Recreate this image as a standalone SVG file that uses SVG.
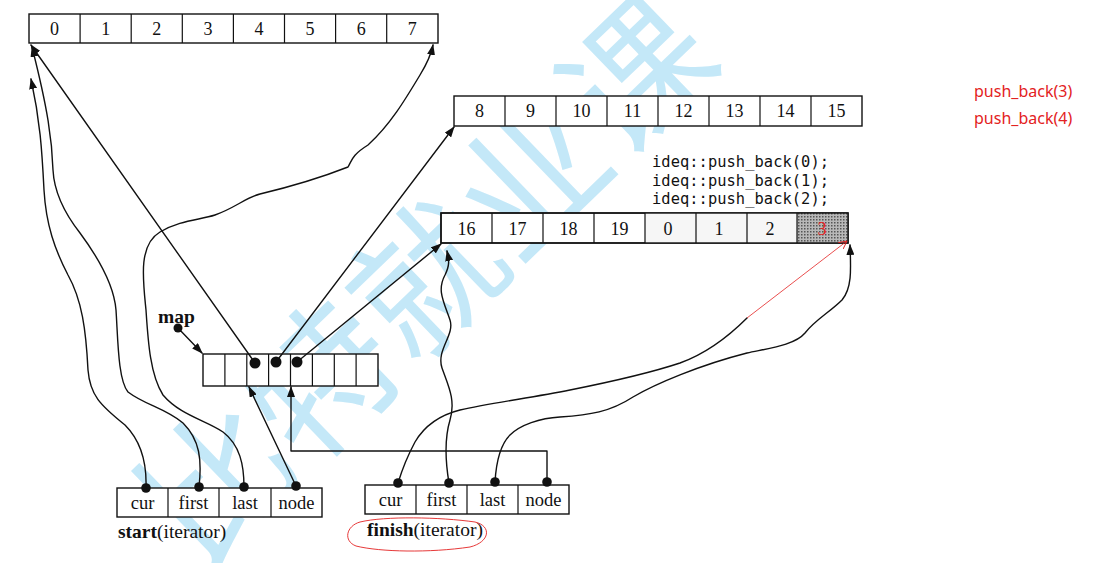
<svg xmlns="http://www.w3.org/2000/svg" width="1103" height="563" viewBox="0 0 1103 563">
<style>
.cell{fill:#fff;stroke:#111;stroke-width:1.4}
.div{stroke:#111;stroke-width:1.2}
.num{font-family:"Liberation Serif",serif;font-size:18px;fill:#111;text-anchor:middle}
.lbl{font-family:"Liberation Serif",serif;font-size:18.5px;fill:#111;text-anchor:middle}
.cap{font-family:"Liberation Serif",serif;font-size:19.5px;fill:#111}
.code{font-family:"DejaVu Sans Mono","Liberation Mono",monospace;font-size:15.4px;fill:#111}
.red{font-family:"Noto Sans","Liberation Sans",sans-serif;font-size:16px;fill:#e32222}
.ln{fill:none;stroke:#111;stroke-width:1.4;stroke-linejoin:round;stroke-linecap:round}
.ar{marker-end:url(#ah)}
.dot{fill:#111}
.wm{font-family:"Noto Sans CJK SC",sans-serif;font-size:146px;fill:#c4e8f8;text-anchor:middle;dominant-baseline:central}
</style>
<defs>
<marker id="ah" markerUnits="userSpaceOnUse" markerWidth="11" markerHeight="8" refX="10" refY="4" orient="auto">
<path d="M0,0 L11,4 L0,8 z" fill="#111"/>
</marker>
<marker id="rah" markerUnits="userSpaceOnUse" markerWidth="9" markerHeight="8" refX="8" refY="4" orient="auto">
<path d="M0,0 L8,4 L0,8" fill="none" stroke="#e32222" stroke-width="0.9"/>
</marker>
<pattern id="hatch" width="3" height="3" patternUnits="userSpaceOnUse">
<rect width="3" height="3" fill="#b8b8b8"/>
<rect width="1.5" height="1.5" fill="#555"/>
</pattern>
</defs>
<rect width="1103" height="563" fill="#fff"/>
<text class="wm" x="420" y="272" transform="rotate(-44 420 272)">比特就业课</text>

<g id="buffer-0-7">
<rect class="cell" x="29" y="14" width="409" height="29"/>
<path class="div" d="M80.1,14V43M131.2,14V43M182.3,14V43M233.4,14V43M284.5,14V43M335.6,14V43M386.7,14V43"/>
<text class="num" x="54.6" y="35">0</text><text class="num" x="105.7" y="35">1</text><text class="num" x="156.8" y="35">2</text><text class="num" x="207.9" y="35">3</text><text class="num" x="259" y="35">4</text><text class="num" x="310.1" y="35">5</text><text class="num" x="361.2" y="35">6</text><text class="num" x="412.3" y="35">7</text>
</g>

<g id="buffer-8-15">
<rect class="cell" x="454" y="96" width="408" height="30"/>
<path class="div" d="M505,96V126M556,96V126M607,96V126M658,96V126M709,96V126M760,96V126M811,96V126"/>
<text class="num" x="479.5" y="117">8</text><text class="num" x="530.5" y="117">9</text><text class="num" x="581.5" y="117">10</text><text class="num" x="632.5" y="117">11</text><text class="num" x="683.5" y="117">12</text><text class="num" x="734.5" y="117">13</text><text class="num" x="785.5" y="117">14</text><text class="num" x="836.5" y="117">15</text>
</g>

<g id="push-code">
<text class="code" x="652" y="167" textLength="177">ideq::push_back(0);</text>
<text class="code" x="652" y="186" textLength="177">ideq::push_back(1);</text>
<text class="code" x="652" y="204" textLength="177">ideq::push_back(2);</text>
</g>

<g id="buffer-16-3">
<rect class="cell" x="441" y="213" width="407" height="30"/>
<rect x="645" y="213" width="152" height="30" fill="#f6f6f6"/>
<rect x="797" y="213" width="51" height="30" fill="url(#hatch)"/>
<rect x="441" y="213" width="407" height="30" fill="none" stroke="#111" stroke-width="1.4"/>
<path class="div" d="M492,213V243M543,213V243M594,213V243M645,213V243M696,213V243M747,213V243M797,213V243"/>
<text class="num" x="466.5" y="235">16</text><text class="num" x="517.5" y="235">17</text><text class="num" x="568.5" y="235">18</text><text class="num" x="619.5" y="235">19</text><text class="num" x="668" y="235">0</text><text class="num" x="719" y="235">1</text><text class="num" x="770" y="235">2</text><text class="num" x="822" y="235" style="fill:#e32222">3</text>
</g>

<g id="red-notes">
<text class="red" x="974" y="97">push_back(3)</text>
<text class="red" x="974" y="124">push_back(4)</text>
</g>

<g id="map">
<text class="cap" x="158" y="323" font-weight="bold">map</text>
<circle class="dot" cx="178" cy="328" r="4.5"/>
<rect class="cell" x="203" y="354" width="175" height="32"/>
<path class="div" d="M224.9,354V386M246.8,354V386M268.6,354V386M290.5,354V386M312.4,354V386M334.3,354V386M356.1,354V386"/>
<circle class="dot" cx="255" cy="363" r="5.5"/>
<circle class="dot" cx="276" cy="362" r="5.5"/>
<circle class="dot" cx="297" cy="362" r="5.5"/>
</g>

<g id="start">
<rect class="cell" x="117" y="488" width="205" height="29"/>
<path class="div" d="M168,488V517M219,488V517M271,488V517"/>
<text class="lbl" x="142.5" y="509">cur</text><text class="lbl" x="193.5" y="509">first</text><text class="lbl" x="245" y="509">last</text><text class="lbl" x="296.5" y="509">node</text>
<text class="cap" x="118" y="538"><tspan font-weight="bold">start</tspan>(iterator)</text>
<circle class="dot" cx="146" cy="488" r="4.8"/>
<circle class="dot" cx="199" cy="487" r="4.8"/>
<circle class="dot" cx="244" cy="487" r="4.8"/>
<circle class="dot" cx="296" cy="486" r="4.8"/>
</g>

<g id="finish">
<rect class="cell" x="365" y="485" width="204" height="29"/>
<path class="div" d="M416,485V514M467,485V514M518,485V514"/>
<text class="lbl" x="390.5" y="506">cur</text><text class="lbl" x="441.5" y="506">first</text><text class="lbl" x="492.5" y="506">last</text><text class="lbl" x="543.5" y="506">node</text>
<text class="cap" x="367" y="536"><tspan font-weight="bold">finish</tspan>(iterator)</text>
<path d="M360,522 C385,516 440,517 475,522 C492,526 490,542 470,547 C430,553 380,552 356,546 C343,541 346,526 360,522 Z" fill="none" stroke="#e32222" stroke-width="0.9"/>
<circle class="dot" cx="398" cy="483" r="4.8"/>
<circle class="dot" cx="449" cy="483" r="4.8"/>
<circle class="dot" cx="495" cy="482" r="4.8"/>
<circle class="dot" cx="547" cy="482" r="4.8"/>
</g>

<g id="connectors">
<path class="ln ar" d="M178,328 L202,353"/>
<path class="ln ar" d="M255,363 L31,45"/>
<path class="ln ar" d="M276,362 L454,127"/>
<path class="ln ar" d="M297,362 L441,244"/>
<path class="ln ar" d="M296,486 L249,387"/>
<path class="ln ar" d="M547,482 V451 H291 V387"/>
<path class="ln ar" d="M146,488 C147,460 140,440 125,425 C100,405 90,395 88,370 C86,330 82,300 68,275 C55,250 46,225 44,190 C42,150 40,120 31,79"/>
<path class="ln ar" d="M199,487 C202,460 200,440 183,423 C165,408 145,405 128,392 C118,380 118,340 116,310 C114,285 100,260 80,233 C62,210 54,190 53,170 C52,140 48,110 32,47"/>
<path class="ln ar" d="M244,487 C244,465 240,445 223,432 C205,420 180,415 163,395 C150,375 148,340 146,310 C143,280 138,245 160,232 C180,220 200,220 215,215 C235,208 245,198 260,194 C285,188 320,178 348,167 C352,160 352,155 368,145 C390,125 405,100 420,75 C428,62 431,55 433,45"/>
<path class="ln" d="M398,483 C402,470 408,455 415,442 C425,425 440,415 460,410 C490,403 530,398 570,390 C610,382 650,373 680,363 C705,354 725,340 747,318"/>
<path d="M747,318 L847,241" fill="none" stroke="#e32222" stroke-width="0.8" marker-end="url(#rah)"/>
<path class="ln ar" d="M449,483 C446,465 444,440 450,420 C456,400 448,385 442,368 C436,350 455,335 450,320 C443,300 437,290 445,275 C450,265 449,260 447,251"/>
<path class="ln ar" d="M495,482 C496,465 500,445 510,435 C520,425 540,418 560,417 C590,415 610,412 633,397 C655,384 700,365 747,353 C770,348 795,345 805,333 C815,320 830,312 842,300 C852,288 851,270 850,245"/>
</g>
</svg>
